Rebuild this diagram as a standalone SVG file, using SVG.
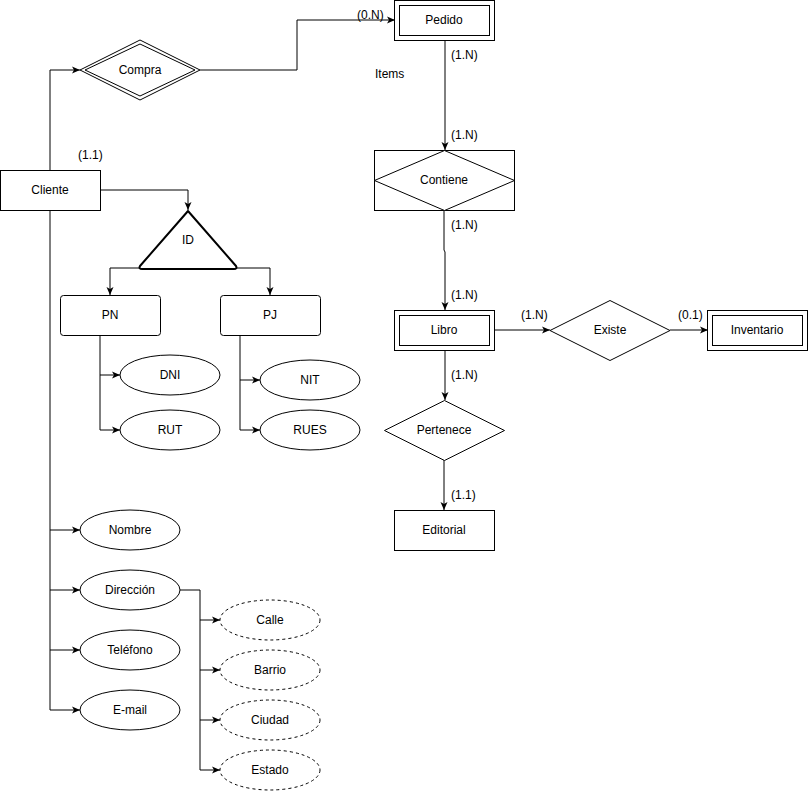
<svg xmlns="http://www.w3.org/2000/svg" width="808" height="791" viewBox="0 0 808 791">
<defs>
<marker id="arr" markerUnits="userSpaceOnUse" markerWidth="9" markerHeight="8" refX="8" refY="4" orient="auto">
<path d="M0,0.5 L8,4 L0,7.5 L2,4 z" fill="#000"/>
</marker>
<style>
text{font-family:"Liberation Sans",Arial,Helvetica,sans-serif;font-size:12px;fill:#000}
.c{text-anchor:middle}
.s{fill:#fff;stroke:#000;stroke-width:1}
.d{fill:#fff;stroke:#000;stroke-width:1;stroke-dasharray:3 3}
.e{fill:none;stroke:#000;stroke-width:1;marker-end:url(#arr)}
.l{fill:none;stroke:#000;stroke-width:1}
</style>
</defs>
<rect width="808" height="791" fill="#fff"/>
<g id="connectors">
<path class="e" d="M50,170 V70 H80"/>
<path class="e" d="M200,70 H297 V20 H395"/>
<path class="e" d="M445,40 V150"/>
<path class="e" d="M444,210 V250 L445,252 V310"/>
<path class="e" d="M495,330 H550"/>
<path class="e" d="M670,330 H708"/>
<path class="e" d="M445,350 V400"/>
<path class="e" d="M444,460 V510"/>
<path class="e" d="M100,190 H188 V210"/>
<path class="e" d="M140,268 H110 V295"/>
<path class="e" d="M236,268 H270 V295"/>
<path class="l" d="M100,335 V430"/>
<path class="e" d="M100,375 H120"/>
<path class="e" d="M100,430 H120"/>
<path class="l" d="M240,335 V430"/>
<path class="e" d="M240,380 H260"/>
<path class="e" d="M240,430 H260"/>
<path class="l" d="M50,210 V710"/>
<path class="e" d="M50,530 H80"/>
<path class="e" d="M50,590 H80"/>
<path class="e" d="M50,650 H80"/>
<path class="e" d="M50,710 H80"/>
<path class="l" d="M180,590 H200 V770"/>
<path class="e" d="M200,620 H220"/>
<path class="e" d="M200,670 H220"/>
<path class="e" d="M200,720 H220"/>
<path class="e" d="M200,770 H220"/>
</g>
<g id="labels">
<text x="357" y="19">(0.N)</text>
<text x="451" y="59">(1.N)</text>
<text x="375" y="78">Items</text>
<text x="451" y="139">(1.N)</text>
<text x="451" y="229">(1.N)</text>
<text x="451" y="299">(1.N)</text>
<text x="521" y="319">(1.N)</text>
<text x="678" y="319">(0.1)</text>
<text x="451" y="379">(1.N)</text>
<text x="451" y="499">(1.1)</text>
<text x="78" y="159">(1.1)</text>
</g>
<g id="cliente"><rect class="s" x="0.5" y="170.5" width="100" height="40"/><text class="c" x="50" y="194">Cliente</text></g>
<g id="compra"><polygon class="s" points="80,70 140,40 200,70 140,100"/><polygon class="s" points="85,70 140,44 195,70 140,96"/><text class="c" x="140" y="74">Compra</text></g>
<g id="pedido"><rect class="s" x="394.5" y="0.5" width="100" height="40"/><rect class="s" x="399.5" y="5.5" width="90" height="30"/><text class="c" x="444" y="24">Pedido</text></g>
<g id="contiene"><rect class="s" x="374.5" y="150.5" width="140" height="60"/><polygon class="s" points="444.5,150.5 514.5,180.5 444.5,210.5 374.5,180.5"/><text class="c" x="444" y="184">Contiene</text></g>
<g id="libro"><rect class="s" x="394.5" y="310.5" width="100" height="40"/><rect class="s" x="399.5" y="315.5" width="90" height="30"/><text class="c" x="444" y="334">Libro</text></g>
<g id="existe"><polygon class="s" points="550,330.5 610,300.5 670,330.5 610,360.5"/><text class="c" x="610" y="334">Existe</text></g>
<g id="inventario"><rect class="s" x="707.5" y="310.5" width="100" height="40"/><rect class="s" x="712.5" y="315.5" width="90" height="30"/><text class="c" x="757" y="334">Inventario</text></g>
<g id="pertenece"><polygon class="s" points="384.5,430.5 444.5,400.5 504.5,430.5 444.5,460.5"/><text class="c" x="444" y="434">Pertenece</text></g>
<g id="editorial"><rect class="s" x="394.5" y="510.5" width="100" height="40"/><text class="c" x="444" y="534">Editorial</text></g>
<g id="id"><path d="M188,211 L236,266 Q237.5,269 234,269 L142,269 Q138.5,269 140,266 Z" fill="#fff" stroke="#000" stroke-width="2" stroke-linejoin="round"/><text class="c" x="188" y="244">ID</text></g>
<g id="pn"><rect class="s" x="60.5" y="295.5" width="100" height="40" rx="3"/><text class="c" x="110" y="319">PN</text></g>
<g id="pj"><rect class="s" x="220.5" y="295.5" width="100" height="40" rx="3"/><text class="c" x="270" y="319">PJ</text></g>
<g id="dni"><ellipse class="s" cx="170" cy="375" rx="50" ry="20"/><text class="c" x="170" y="379">DNI</text></g>
<g id="rut"><ellipse class="s" cx="170" cy="430" rx="50" ry="20"/><text class="c" x="170" y="434">RUT</text></g>
<g id="nit"><ellipse class="s" cx="310" cy="380" rx="50" ry="20"/><text class="c" x="310" y="384">NIT</text></g>
<g id="rues"><ellipse class="s" cx="310" cy="430" rx="50" ry="20"/><text class="c" x="310" y="434">RUES</text></g>
<g id="nombre"><ellipse class="s" cx="130" cy="530" rx="50" ry="20"/><text class="c" x="130" y="534">Nombre</text></g>
<g id="direccion"><ellipse class="s" cx="130" cy="590" rx="50" ry="20"/><text class="c" x="130" y="594">Dirección</text></g>
<g id="telefono"><ellipse class="s" cx="130" cy="650" rx="50" ry="20"/><text class="c" x="130" y="654">Teléfono</text></g>
<g id="email"><ellipse class="s" cx="130" cy="710" rx="50" ry="20"/><text class="c" x="130" y="714">E-mail</text></g>
<g id="calle"><ellipse class="d" cx="270" cy="620" rx="50" ry="20"/><text class="c" x="270" y="624">Calle</text></g>
<g id="barrio"><ellipse class="d" cx="270" cy="670" rx="50" ry="20"/><text class="c" x="270" y="674">Barrio</text></g>
<g id="ciudad"><ellipse class="d" cx="270" cy="720" rx="50" ry="20"/><text class="c" x="270" y="724">Ciudad</text></g>
<g id="estado"><ellipse class="d" cx="270" cy="770" rx="50" ry="20"/><text class="c" x="270" y="774">Estado</text></g>
</svg>
